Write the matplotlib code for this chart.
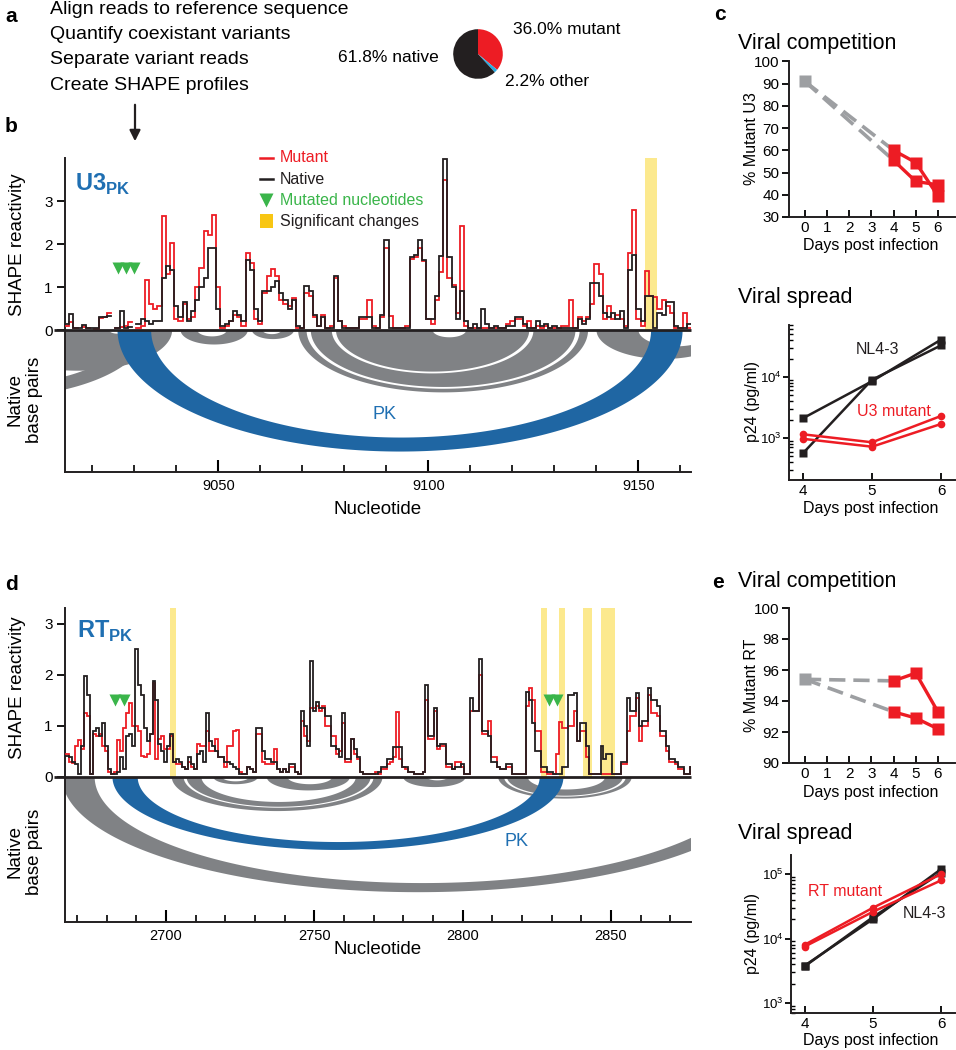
import numpy as np
import matplotlib
matplotlib.use('Agg')
import matplotlib.pyplot as plt
from matplotlib.patches import Polygon, Rectangle, FancyArrowPatch
import matplotlib.ticker as mticker

plt.rcParams['font.family'] = ['Liberation Sans', 'DejaVu Sans']
plt.rcParams['mathtext.fontset'] = 'custom'
plt.rcParams['mathtext.rm'] = 'Liberation Sans'
plt.rcParams['mathtext.bf'] = 'Liberation Sans:bold'
nan = np.nan

# ---------------- data ----------------
read_fractions = [36.0, 2.2, 61.8]
read_labels = ['36.0% mutant', '2.2% other', '61.8% native']
workflow_steps = ['Align reads to reference sequence', 'Quantify coexistant variants',
                  'Separate variant reads', 'Create SHAPE profiles']

u3_start = 9014
u3_native = [
    .15, .37, .05, .05, .12, .05, .05, .05, .30, .30,
    .33, nan, .05, .45, .05, .08, nan, .15, .25, .20,
    .15, .20, .20, 1.20, 1.50, 1.40, .55, .30, .65, .20,
    .45, .70, 1.00, 1.20, 1.90, 1.90, .50, .10, .15, .20,
    .45, .35, .20, 1.63, 1.40, .50, .20, .90, .90, 1.00,
    1.15, .85, .70, .50, .70, .10, .05, 1.03, .90, .35,
    .10, .30, .05, .05, 1.25, .20, .05, .05, .05, .05,
    .30, .30, .30, .05, .05, .35, 2.10, .05, .05, .05,
    .05, .05, 1.70, 1.75, 2.10, 1.63, .25, .25, .80, 1.73,
    3.97, 1.70, 1.00, .25, .90, .20, .05, .15, .05, .50,
    .15, .05, .10, .05, .05, .10, .10, .30, .30, .15,
    .05, .05, .20, .10, .15, .05, .10, .05, .05, .05,
    .05, .05, .25, .15, .25, 1.10, 1.10, .80, .40, .30,
    .40, .25, .45, .05, 1.40, 1.75, .50, .20, .80, .80,
    .05, .40, .35, .65, .65, .10, .05, .05, .15]
u3_mutant = [
    .10, .18, .05, nan, .08, .05, nan, .03, .28, .30,
    .40, nan, .05, .08, .10, .18, nan, .05, .10, 1.17,
    .60, .50, .55, 2.65, 1.30, 2.03, .25, .20, .60, .25,
    .30, 1.00, 1.45, 2.30, 2.20, 2.68, 1.00, .05, .10, .20,
    .35, .30, .10, 1.80, 1.55, .25, .15, .85, 1.25, 1.42,
    1.25, .70, .60, .55, .75, .05, .05, .85, .80, .30,
    .10, .35, .05, .10, 1.20, .20, .10, .05, .05, .05,
    .25, .25, .70, .10, .05, .30, 1.90, .33, .05, .05,
    .05, .10, 1.65, 1.70, 1.90, 1.60, .25, .15, .70, 1.35,
    3.50, 1.20, 1.05, .40, 2.42, .10, .05, .05, .05, .05,
    .05, .05, .05, .05, .05, .15, .20, .25, .25, .10,
    .20, .05, .10, .05, .10, .05, .05, .05, .10, .10,
    .70, .05, .30, .20, .30, .60, 1.53, 1.30, .25, .55,
    .25, .35, .25, .10, 1.80, 2.80, .25, .10, 1.38, .80,
    .78, .50, .70, .55, .40, .05, .05, .40, .05]
u3_mutated_nt = [9026, 9028, 9030]
u3_significant = [(9151.5, 9154.5)]
# helices: (outer 5', inner 5', inner 3', outer 3')
u3_helices = [(8994, 9024, 9028, 9039), (8958, 8968, 9028, 9033),
              (9041, 9045, 9052, 9057), (9058, 9060.5, 9065, 9068),
              (9069, 9071, 9136, 9138), (9072, 9077, 9125, 9135),
              (9078, 9101, 9109, 9124), (9140, 9150, 9168, 9172)]
u3_pk = (9026, 9034, 9153, 9160.5)

rt_start = 2667
rt_native = [
    .42, .40, .30, .25, .05, .60, 1.97, 1.60, .05, .90,
    .95, .80, 1.05, .60, .15, .05, .05, .10, .40, .15,
    .80, .85, .60, 2.50, 1.80, 1.60, .95, .70, .85, 1.88,
    1.50, .65, .50, .30, .60, .85, .30, .35, .30, .20,
    .15, .40, .25, .15, .45, .50, .30, 1.25, .70, .60,
    .50, .40, .40, .30, .30, .25, .20, .15, .05, .05,
    .05, .20, .15, .10, .95, .95, .50, .35, .35, .30,
    .30, .15, .10, .15, .10, .25, .25, .10, .05, 1.30,
    1.00, .60, 2.27, 1.30, 1.47, 1.35, 1.35, 1.20, 1.20, .60,
    .60, .55, .40, 1.25, .35, .35, .75, .55, .40, .10,
    .05, .05, .05, .05, .05, .10, .20, .20, .35, .35,
    .58, .58, .58, .20, .20, .10, .10, .05, .05, .05,
    .10, 1.80, .80, .80, 1.35, .60, .65, .65, .25, .25,
    .15, .20, .20, .25, .05, .05, 1.55, 1.30, 1.30, 2.32,
    .90, .90, .80, .30, .30, .20, .15, .15, .25, .25,
    .05, .05, .05, .05, .05, 1.67, 1.50, 1.05, .50, .50,
    .20, .20, .10, .10, .05, .05, .05, .20, .20, 1.60,
    1.60, 1.65, .70, 1.05, 1.05, .60, .05, .05, .05, .05,
    .60, .35, .45, .45, .05, .05, .05, .30, .30, 1.55,
    1.30, 1.30, 1.64, 1.00, 1.10, 1.10, 1.75, 1.50, 1.50, 1.40,
    .90, .90, .60, .35, .35, .30, .20, .20, .05, .05,
    .20]
rt_mutant = [
    .45, .30, .28, .60, .72, .55, 1.25, 1.20, .05, .85,
    .80, .85, .60, .50, .10, .05, .10, .72, .50, .95,
    1.25, 1.45, 1.00, 1.00, .90, .42, .40, .45, .85, 1.85,
    .35, .75, .80, .55, .55, .80, .30, .25, .25, .20,
    .15, .30, .20, .15, .65, .60, .60, .90, .50, .50,
    .75, .40, .40, .20, .60, .60, .90, .92, .10, .05,
    .05, .20, .15, .10, .85, .85, .30, .25, .25, .25,
    .55, .15, .10, .15, .10, .20, .20, .10, .05, 1.10,
    .80, .70, 1.35, 1.35, 1.40, 1.30, 1.40, 1.00, 1.00, .80,
    .80, .45, .50, 1.05, .30, .30, .75, .45, .35, .10,
    .05, .05, .05, .05, .10, .05, .15, .15, .25, .30,
    .40, 1.27, .35, .20, .15, .10, .10, .05, .05, .05,
    .10, 1.50, .75, .75, 1.30, .55, .60, .60, .20, .20,
    .15, .30, .30, .20, .05, .05, 1.30, 1.30, 1.30, 2.00,
    .85, .85, 1.10, .40, .40, .20, .15, .15, .20, .20,
    .05, .05, .05, .05, .05, 1.40, 1.75, 1.50, .90, .90,
    .10, .10, .05, .05, .05, .45, 1.08, .95, .95, 1.00,
    1.00, 1.30, .70, .90, .90, .40, .05, .05, .05, .05,
    .05, .05, .05, .05, .05, .05, .05, .25, .25, .90,
    1.20, 1.20, 1.55, .70, 1.00, 1.00, 1.60, 1.25, 1.25, 1.20,
    .80, .80, .50, .30, .30, .25, .15, .15, .05, .05,
    .20]
rt_mutated_nt = [2683, 2686, 2829, 2832]
rt_significant = [(2701.5, 2703.5), (2826.5, 2828.5), (2832.5, 2834.5),
                  (2840.5, 2843.5), (2846.5, 2851.5)]
rt_helices = [(2665, 2676, 2897, 2905), (2702, 2706, 2770, 2773),
              (2707, 2712, 2764, 2769), (2716, 2719, 2728, 2731),
              (2734, 2741, 2756, 2762), (2780, 2788, 2795, 2801),
              (2812, 2814, 2855, 2857), (2815, 2822, 2848, 2854)]
rt_pk = (2682, 2690.5, 2826, 2834)

comp_days = [0, 4, 5, 6]
u3_comp_start = 91.0
u3_comp_rep1 = [60.0, 54.5, 39.5]
u3_comp_rep2 = [55.5, 46.0, 44.5]
rt_comp_start = 95.4
rt_comp_rep1 = [95.3, 95.8, 93.3]
rt_comp_rep2 = [93.3, 92.9, 92.2]

spread_days = [4, 5, 6]
u3_spread_wt1 = [2100, 8500, 41000]
u3_spread_wt2 = [560, 9000, 33000]
u3_spread_mut1 = [1150, 850, 2300]
u3_spread_mut2 = [970, 720, 1700]
rt_spread_wt1 = [3800, 20000, 120000]
rt_spread_wt2 = [3700, 21500, 105000]
rt_spread_mut1 = [8000, 30000, 100000]
rt_spread_mut2 = [7500, 26000, 80000]

# ---------------- style ----------------
RED = '#ed1c24'
BLACK = '#231f20'
GRAYARC = '#808285'
BLUEARC = '#1f66a3'
BLUETXT = '#1f6fb2'
YELLOW = '#fce98e'
LEGYELLOW = '#f8c613'
GREEN = '#3ab54a'
CYAN = '#29abe2'
GRAYC = '#9d9fa2'

W, H = 956, 1050
fig = plt.figure(figsize=(W / 100, H / 100), dpi=100)


def T(x, y, s, **kw):
    kw.setdefault('va', 'center')
    return fig.text(x / W, 1 - y / H, s, **kw)


def add_ax(x0, y0, x1, y1):
    return fig.add_axes([x0 / W, 1 - y1 / H, (x1 - x0) / W, (y1 - y0) / H])


def step_xy(start, vals):
    xs, ys = [], []
    prev = False
    for k, v in enumerate(vals):
        n = start + k
        if np.isnan(v):
            if prev:
                xs.append(nan); ys.append(nan)
            prev = False
            continue
        xs += [n - 0.5, n + 0.5]
        ys += [v, v]
        prev = True
    return xs, ys


def band(ax, h, s, color, z):
    i1, i2, j1, j2 = h
    t = np.linspace(np.pi, 0, 160)
    co, ho = (i1 + j2) / 2, (j2 - i1) / 2
    ci, hi = (i2 + j1) / 2, (j1 - i2) / 2
    xo = co + ho * np.cos(t)
    yo = -s * 2 * ho * np.sin(t)
    tr = t[::-1]
    xi = ci + hi * np.cos(tr)
    yi = -s * 2 * hi * np.sin(tr)
    poly = np.column_stack([np.r_[xo, xi], np.r_[yo, yi]])
    ax.add_patch(Polygon(poly, closed=True, fc=color, ec='none', zorder=z))


def shape_panel(ax, start, nat, mut, helices, pk, sig, mutated, ylim, xlim, s,
                tri_y):
    ax.set_xlim(*xlim)
    ax.set_ylim(*ylim)
    for h in helices:
        band(ax, h, s, GRAYARC, 1)
    band(ax, pk, s, BLUEARC, 1.2)
    for a, b in sig:
        ax.add_patch(Rectangle((a, 0), b - a, ylim[1], fc=YELLOW, ec='none', zorder=1.5))
    x, y = step_xy(start, mut)
    ax.plot(x, y, color=RED, lw=1.3, zorder=3, solid_joinstyle='miter')
    x, y = step_xy(start, nat)
    ax.plot(x, y, color=BLACK, lw=1.3, zorder=4, solid_joinstyle='miter')
    ax.plot([-0.018, 1], [0, 0], transform=ax.get_yaxis_transform(), color=BLACK,
            lw=2.0, clip_on=False, zorder=5, solid_capstyle='butt')
    ax.plot(mutated, [tri_y] * len(mutated), 'v', color=GREEN, ms=9, mec='none', zorder=6)
    for sp in ['top', 'right']:
        ax.spines[sp].set_visible(False)
    for sp in ['left', 'bottom']:
        ax.spines[sp].set_linewidth(1.4)
        ax.spines[sp].set_color(BLACK)
    ax.set_yticks([0, 1, 2, 3])
    ax.tick_params(axis='y', direction='out', length=6, width=1.3, labelsize=11, pad=3)
    ax.xaxis.set_major_locator(mticker.MultipleLocator(50))
    ax.xaxis.set_minor_locator(mticker.MultipleLocator(10))
    ax.tick_params(axis='x', which='major', direction='in', length=9, width=1.5,
                   labelsize=10.5, pad=5)
    ax.tick_params(axis='x', which='minor', direction='in', length=5, width=1.2)
    ax.patch.set_alpha(0)


# ---------------- panel a ----------------
T(5, 16, 'a', fontsize=15, fontweight='bold')
for k, st in enumerate(workflow_steps):
    T(50, 9 + 25.5 * k, st, fontsize=14)
axp = add_ax(447, 23, 509, 85)
axp.pie(read_fractions, colors=[RED, CYAN, BLACK], startangle=90,
        counterclock=False, wedgeprops=dict(linewidth=0))
axp.set_aspect('equal')
T(513, 29, read_labels[0], fontsize=12.5)
T(505, 81, read_labels[1], fontsize=12.5)
T(439, 58, read_labels[2], fontsize=12.5, ha='right')
fig.add_artist(FancyArrowPatch((135 / W, 1 - 102 / H), (135 / W, 1 - 144 / H),
                               transform=fig.transFigure, arrowstyle='-|>',
                               mutation_scale=16, lw=1.6, color=BLACK))

# ---------------- panel b ----------------
T(5, 127, 'b', fontsize=15, fontweight='bold')
axb = add_ax(65, 158, 691, 472)
shape_panel(axb, u3_start, u3_native, u3_mutant, u3_helices, u3_pk, u3_significant,
            u3_mutated_nt, (-3.30, 4.0), (9013.5, 9162.5), 0.021, 1.45)
T(75, 184, r'$\mathbf{U3}_{\mathbf{PK}}$', fontsize=17, color=BLUETXT)
T(385, 415, 'PK', fontsize=13, color=BLUETXT, ha='center')
# legend
tb = axb.transAxes
axb.plot([0.3115, 0.332], [1.0, 1.0], transform=tb, color=RED, lw=1.8, clip_on=False)
axb.text(0.343, 1.0, 'Mutant', transform=tb, color=RED, fontsize=11.5, va='center')
axb.plot([0.3115, 0.332], [0.933, 0.933], transform=tb, color=BLACK, lw=1.8, clip_on=False)
axb.text(0.343, 0.933, 'Native', transform=tb, color=BLACK, fontsize=11.5, va='center')
axb.plot([0.3218], [0.866], 'v', transform=tb, color=GREEN, ms=10, mec='none', clip_on=False)
axb.text(0.343, 0.866, 'Mutated nucleotides', transform=tb, color=GREEN, fontsize=11.5,
         va='center')
axb.add_patch(Rectangle((0.3115, 0.777), 0.0205, 0.045, transform=tb, fc=LEGYELLOW,
                        ec='none', clip_on=False))
axb.text(0.343, 0.799, 'Significant changes', transform=tb, color=BLACK, fontsize=11.5,
         va='center')
T(18, 245, 'SHAPE reactivity', fontsize=13.5, rotation=90, ha='center')
T(25, 400, 'Native\nbase pairs', fontsize=13.5, rotation=90, ha='center',
  multialignment='center')
T(378, 510, 'Nucleotide', fontsize=13.5, ha='center')

# ---------------- panel d ----------------
T(5, 584, 'd', fontsize=15, fontweight='bold')
axd = add_ax(65, 608, 691, 922)
shape_panel(axd, rt_start, rt_native, rt_mutant, rt_helices, rt_pk, rt_significant,
            rt_mutated_nt, (-2.84, 3.31), (2666, 2877), 0.0094, 1.5)
T(77, 631, r'$\mathbf{RT}_{\mathbf{PK}}$', fontsize=17, color=BLUETXT)
T(516, 842, 'PK', fontsize=13, color=BLUETXT, ha='center')
T(18, 688, 'SHAPE reactivity', fontsize=13.5, rotation=90, ha='center')
T(25, 852, 'Native\nbase pairs', fontsize=13.5, rotation=90, ha='center',
  multialignment='center')
T(378, 950, 'Nucleotide', fontsize=13.5, ha='center')


# ---------------- panels c / e ----------------
def style_small(ax):
    for sp in ['top', 'right']:
        ax.spines[sp].set_visible(False)
    for sp in ['left', 'bottom']:
        ax.spines[sp].set_linewidth(1.4)
        ax.spines[sp].set_color(BLACK)
    ax.patch.set_alpha(0)


def comp_panel(ax, start, rep1, rep2, ylim, yticks):
    ax.set_xlim(-0.72, 6.77)
    ax.set_ylim(*ylim)
    for rep in (rep1, rep2):
        ax.plot([comp_days[0], comp_days[1]], [start, rep[0]], color=GRAYC, lw=2.6,
                dashes=(4.5, 2.2), zorder=2)
    ax.plot([0], [start], 's', color=GRAYC, ms=8, mec='none', zorder=3)
    for rep in (rep1, rep2):
        ax.plot(comp_days[1:], rep, '-s', color=RED, lw=2.4, ms=8, mec='none', zorder=4)
    ax.set_xticks(range(0, 7))
    ax.set_yticks(yticks)
    ax.tick_params(axis='x', direction='in', length=5, width=1.3, labelsize=11, pad=3)
    ax.tick_params(axis='y', direction='out', length=5, width=1.3, labelsize=11, pad=2)
    style_small(ax)


def spread_panel(ax, wt1, wt2, m1, m2, ylim):
    ax.set_yscale('log')
    ax.set_xlim(3.8, 6.2)
    ax.set_ylim(*ylim)
    for rep in (wt1, wt2):
        ax.plot(spread_days, rep, '-s', color=BLACK, lw=1.8, ms=5.5, mec='none', zorder=3)
    for rep in (m1, m2):
        ax.plot(spread_days, rep, '-o', color=RED, lw=1.8, ms=5.5, mec='none', zorder=4)
    ax.set_xticks(spread_days)
    ax.yaxis.set_major_locator(mticker.LogLocator(base=10, numticks=10))
    ax.yaxis.set_minor_locator(mticker.LogLocator(base=10, subs=np.arange(2, 10), numticks=10))
    ax.yaxis.set_minor_formatter(mticker.NullFormatter())
    ax.yaxis.set_major_formatter(mticker.LogFormatterMathtext())
    ax.tick_params(axis='x', direction='in', length=5, width=1.3, labelsize=11, pad=3)
    ax.tick_params(axis='y', which='major', direction='out', length=4, width=1.3,
                   labelsize=9.5, pad=1)
    ax.tick_params(axis='y', which='minor', direction='in', length=3, width=1.0)
    style_small(ax)


T(714, 14, 'c', fontsize=15, fontweight='bold')
T(738, 43, 'Viral competition', fontsize=15.5)
axc1 = add_ax(789, 61.5, 955, 217)
comp_panel(axc1, u3_comp_start, u3_comp_rep1, u3_comp_rep2, (30, 100), range(30, 101, 10))
T(752, 139, '% Mutant U3', fontsize=11.5, rotation=90, ha='center')
T(871, 245, 'Days post infection', fontsize=11.5, ha='center')

T(738, 298, 'Viral spread', fontsize=15.5)
axc2 = add_ax(789, 325, 955, 480)
spread_panel(axc2, u3_spread_wt1, u3_spread_wt2, u3_spread_mut1, u3_spread_mut2,
             (205, 71000))
T(752, 402, 'p24 (pg/ml)', fontsize=11.5, rotation=90, ha='center')
T(871, 509, 'Days post infection', fontsize=11.5, ha='center')
T(856, 350, 'NL4-3', fontsize=11.5, color=BLACK)
T(857, 412, 'U3 mutant', fontsize=11.5, color=RED)

T(712, 582, 'e', fontsize=15, fontweight='bold')
T(738, 582, 'Viral competition', fontsize=15.5)
axe1 = add_ax(789, 608, 955, 763)
comp_panel(axe1, rt_comp_start, rt_comp_rep1, rt_comp_rep2, (90, 100), range(90, 101, 2))
T(752, 685, '% Mutant RT', fontsize=11.5, rotation=90, ha='center')
T(871, 792, 'Days post infection', fontsize=11.5, ha='center')

T(738, 833, 'Viral spread', fontsize=15.5)
axe2 = add_ax(791, 855, 955, 1013)
spread_panel(axe2, rt_spread_wt1, rt_spread_wt2, rt_spread_mut1, rt_spread_mut2,
             (700, 197000))
T(752, 934, 'p24 (pg/ml)', fontsize=11.5, rotation=90, ha='center')
T(871, 1041, 'Days post infection', fontsize=11.5, ha='center')
T(808, 892, 'RT mutant', fontsize=11.5, color=RED)
T(903, 913, 'NL4-3', fontsize=11.5, color=BLACK)

fig.savefig('out.png', dpi=100)
